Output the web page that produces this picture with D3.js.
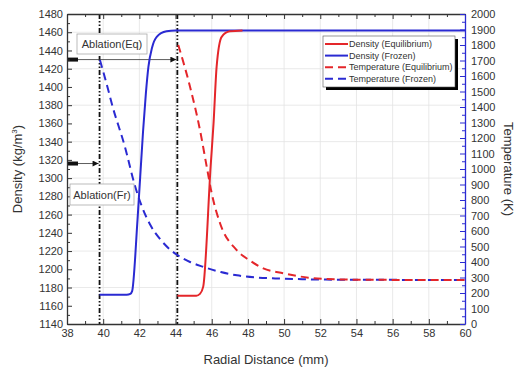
<!DOCTYPE html>
<html>
<head>
<meta charset="utf-8">
<script src="https://cdn.jsdelivr.net/npm/d3@7"></script>
<style>
  body { margin: 0; background: #fff; }
  text { font-family: "Liberation Sans", Arial, sans-serif; }
</style>
</head>
<body>
<div id="chart"></div>
<script>
// radial distance (mm) / density (kg/m3)
var densEqX  = [44.1, 45.15, 45.35, 45.53, 45.94, 46.1, 46.27, 46.55, 47.0, 47.7];
var densEqY  = [1171, 1171, 1173, 1181, 1313, 1360, 1422, 1455, 1461, 1462];
var densFrX  = [39.8, 41.3, 41.5, 41.6, 41.9, 42.2, 42.36, 42.5, 42.7, 42.96, 43.5, 44, 60];
var densFrY  = [1172, 1172, 1173, 1176, 1255, 1350, 1393, 1422, 1443, 1455, 1461, 1462, 1462];
// temperature (K)
var tempEqX  = [44.15, 44.8, 45.35, 45.7, 46.0, 46.46, 47.38, 48.1, 48.85, 49.96, 51.34, 53, 55, 60];
var tempEqY  = [1800, 1531, 1252, 1030, 843, 650, 477, 410, 359, 327, 299, 288, 285, 284];
var tempFrX  = [39.82, 40.28, 40.47, 41.2, 41.76, 42.1, 42.6, 43.2, 43.7, 44.1, 44.8, 45.5, 46.5, 47.4, 48.5, 49.5, 51, 53, 60];
var tempFrY  = [1703, 1510, 1424, 1144, 890, 770, 640, 540, 480, 445, 400, 370, 335, 314, 300, 294, 289, 286, 284];

var ablationX = [39.8, 44.1];
var ablationLabels = ["Ablation(Fr)", "Ablation(Eq)"];
var arrowDensity = [1316, 1430];

var legendLabels = ["Density (Equilibrium)", "Density (Frozen)", "Temperature (Equilibrium)", "Temperature (Frozen)"];

var xTicks = d3.range(38, 61, 2);
var densTicks = d3.range(1140, 1481, 20);
var tempTicks = d3.range(0, 2001, 100);

var RED = "#e4262a", BLUE = "#2a2ad2";

var width = 517, height = 372;
var margin = {top: 14, right: 52, bottom: 48, left: 67};
var w = width - margin.left - margin.right;
var h = height - margin.top - margin.bottom;

var svg = d3.select("#chart").append("svg")
    .attr("width", width).attr("height", height);

var x = d3.scaleLinear().domain([38, 60]).range([0, w]);
var y = d3.scaleLinear().domain([1140, 1480]).range([h, 0]);
var yT = d3.scaleLinear().domain([0, 2000]).range([h, 0]);
var fmt = d3.format("d");

var g = svg.append("g").attr("transform", `translate(${margin.left},${margin.top})`);

// grid
g.append("g").selectAll("line").data(d3.range(40, 60, 2)).join("line")
    .attr("x1", d => x(d)).attr("x2", d => x(d)).attr("y1", 0).attr("y2", h)
    .attr("stroke", "#e3e3e3").attr("stroke-width", 0.8);
g.append("g").selectAll("line").data(d3.range(1180, 1480, 40)).join("line")
    .attr("x1", 0).attr("x2", w).attr("y1", d => y(d)).attr("y2", d => y(d))
    .attr("stroke", "#e3e3e3").attr("stroke-width", 0.8);

// ablation lines
g.append("g").selectAll("line").data(ablationX).join("line")
    .attr("x1", d => x(d)).attr("x2", d => x(d)).attr("y1", 0).attr("y2", h)
    .attr("stroke", "#111").attr("stroke-width", 1.8)
    .attr("stroke-dasharray", "5,2,1.5,2,1.5,2");

// arrows
svg.append("defs").append("marker").attr("id", "arr")
    .attr("viewBox", "0 0 10 10").attr("refX", 10).attr("refY", 5)
    .attr("markerWidth", 7).attr("markerHeight", 6).attr("orient", "auto")
    .attr("markerUnits", "userSpaceOnUse")
    .append("path").attr("d", "M0,0L10,5L0,10z").attr("fill", "#111");
arrowDensity.forEach(function(d, i){
    g.append("line").attr("x1", 0).attr("x2", x(ablationX[i]) - 1)
        .attr("y1", y(d)).attr("y2", y(d))
        .attr("stroke", "#333").attr("stroke-width", 0.8)
        .attr("marker-end", "url(#arr)");
    g.append("line").attr("x1", 0).attr("x2", 11)
        .attr("y1", y(d)).attr("y2", y(d))
        .attr("stroke", "#111").attr("stroke-width", 4);
});

// label boxes
var boxes = [{label: ablationLabels[0], x0: 70, y0: 184, bw: 64, bh: 21},
             {label: ablationLabels[1], x0: 77, y0: 34, bw: 70, bh: 20}];
boxes.forEach(function(b){
    svg.append("rect").attr("x", b.x0).attr("y", b.y0).attr("width", b.bw).attr("height", b.bh)
        .attr("fill", "#fff").attr("stroke", "#aaa").attr("stroke-width", 0.8);
    svg.append("text").attr("x", b.x0 + b.bw / 2).attr("y", b.y0 + b.bh / 2 + 4)
        .attr("text-anchor", "middle").attr("font-size", 11).attr("fill", "#333")
        .text(b.label);
});

// curves
function series(xs, ys){ return xs.map((d, i) => [d, ys[i]]); }
var lineD = d3.line().x(d => x(d[0])).y(d => y(d[1])).curve(d3.curveMonotoneX);
var lineT = d3.line().x(d => x(d[0])).y(d => yT(d[1])).curve(d3.curveMonotoneX);

g.append("path").datum(series(tempFrX, tempFrY)).attr("d", lineT)
    .attr("fill", "none").attr("stroke", BLUE).attr("stroke-width", 2).attr("stroke-dasharray", "8,5");
g.append("path").datum(series(tempEqX, tempEqY)).attr("d", lineT)
    .attr("fill", "none").attr("stroke", RED).attr("stroke-width", 2).attr("stroke-dasharray", "8,5");
g.append("path").datum(series(densFrX, densFrY)).attr("d", lineD)
    .attr("fill", "none").attr("stroke", BLUE).attr("stroke-width", 2);
g.append("path").datum(series(densEqX, densEqY)).attr("d", lineD)
    .attr("fill", "none").attr("stroke", RED).attr("stroke-width", 2);

// axes
function styleAx(sel, col){
    sel.selectAll(".tick text").attr("font-size", 11).attr("fill", "#333")
       .style("font-family", "Liberation Sans, Arial, sans-serif");
    sel.selectAll(".tick line").attr("stroke", col);
    sel.select(".domain").attr("stroke", col).attr("stroke-width", 1.3);
}
var minorX = d3.range(39, 60, 2);
g.append("g").attr("transform", `translate(0,${h})`)
    .call(d3.axisBottom(x).tickValues(xTicks).tickFormat(fmt).tickSizeInner(-5).tickSizeOuter(0).tickPadding(5))
    .call(s => styleAx(s, "#333"));
g.append("g").attr("transform", `translate(0,${h})`)
    .call(d3.axisBottom(x).tickValues(minorX).tickSize(-3).tickFormat(""))
    .call(s => { s.select(".domain").remove(); s.selectAll("line").attr("stroke", "#333"); });
g.append("g")
    .call(d3.axisTop(x).tickValues(xTicks).tickSizeInner(-5).tickSizeOuter(0).tickFormat(""))
    .call(s => styleAx(s, "#333"));
g.append("g")
    .call(d3.axisTop(x).tickValues(minorX).tickSize(-3).tickFormat(""))
    .call(s => { s.select(".domain").remove(); s.selectAll("line").attr("stroke", "#333"); });

g.append("g")
    .call(d3.axisLeft(y).tickValues(densTicks).tickFormat(fmt).tickSizeInner(-5).tickSizeOuter(0).tickPadding(4))
    .call(s => styleAx(s, "#333"));
g.append("g")
    .call(d3.axisLeft(y).tickValues(d3.range(1150, 1480, 20)).tickSize(-3).tickFormat(""))
    .call(s => { s.select(".domain").remove(); s.selectAll("line").attr("stroke", "#333"); });

g.append("g").attr("transform", `translate(${w},0)`)
    .call(d3.axisRight(yT).tickValues(tempTicks).tickFormat(fmt).tickSizeInner(-5).tickSizeOuter(0).tickPadding(6))
    .call(s => styleAx(s, BLUE));
g.append("g").attr("transform", `translate(${w},0)`)
    .call(d3.axisRight(yT).tickValues(d3.range(50, 2000, 100)).tickSize(-3).tickFormat(""))
    .call(s => { s.select(".domain").remove(); s.selectAll("line").attr("stroke", BLUE); });

// legend
var lg = svg.append("g").attr("transform", "translate(323,36)");
lg.append("rect").attr("x", 3).attr("y", 3).attr("width", 132).attr("height", 51).attr("fill", "#000");
lg.append("rect").attr("width", 132).attr("height", 51).attr("fill", "#fff").attr("stroke", "#555").attr("stroke-width", 0.6);
var lcol = [RED, BLUE, RED, BLUE], ldash = [null, null, "8,5", "8,5"];
legendLabels.forEach(function(t, i){
    var yy = 8 + i * 11.6;
    lg.append("line").attr("x1", 2).attr("x2", 25).attr("y1", yy).attr("y2", yy)
        .attr("stroke", lcol[i]).attr("stroke-width", 2).attr("stroke-dasharray", ldash[i]);
    lg.append("text").attr("x", 26).attr("y", yy + 3).attr("font-size", 9).attr("fill", "#333").text(t);
});

// axis titles
svg.append("text").attr("transform", `translate(22,${margin.top + h / 2}) rotate(-90)`)
    .attr("text-anchor", "middle").attr("font-size", 13).attr("fill", "#333")
    .html('Density (kg/m<tspan dy="-5" font-size="8">3</tspan><tspan dy="5">)</tspan>');
svg.append("text").attr("transform", `translate(504,${margin.top + h / 2}) rotate(90)`)
    .attr("text-anchor", "middle").attr("font-size", 13).attr("fill", "#333")
    .text("Temperature (K)");
svg.append("text").attr("x", margin.left + w / 2).attr("y", 364)
    .attr("text-anchor", "middle").attr("font-size", 13).attr("fill", "#333")
    .text("Radial Distance (mm)");
</script>
</body>
</html>
